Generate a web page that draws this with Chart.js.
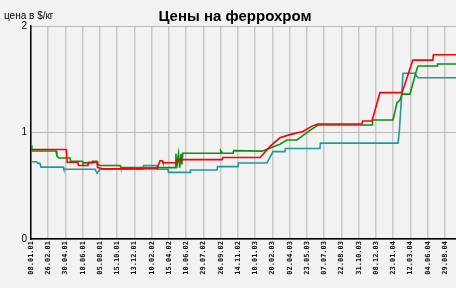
<!DOCTYPE html>
<html>
<head>
<meta charset="utf-8">
<script src="https://cdn.jsdelivr.net/npm/chart.js@4"></script>
<style>
  html, body { margin: 0; padding: 0; background: #f2f2f2; }
  #wrap { width: 456px; height: 288px; position: relative; }
</style>
</head>
<body>
<div id="wrap"><canvas id="ferroChart"></canvas></div>
<script>
// tick labels (dates), one per vertical grid line
const dateLabels = [
  '08.01.01', '26.02.01', '30.04.01', '18.06.01', '05.08.01', '15.10.01',
  '13.12.01', '10.02.02', '15.04.02', '10.06.02', '29.07.02', '26.09.02',
  '14.11.02', '10.01.03', '20.02.03', '02.04.03', '23.05.03', '07.07.03',
  '22.08.03', '31.10.03', '08.12.03', '23.01.04', '12.03.04', '04.06.04',
  '29.08.04'
];

// x = position in label steps, y = price $/kg
const priceRed = [
  [0, 0.84], [2.05, 0.84], [2.1, 0.72], [2.72, 0.72], [2.75, 0.69], [3.3, 0.69],
  [3.33, 0.72], [3.83, 0.72], [3.86, 0.67], [4.17, 0.66], [7.3, 0.66], [7.48, 0.735],
  [7.6, 0.735], [7.65, 0.716], [8.46, 0.716], [8.5, 0.745], [11.07, 0.745], [11.13, 0.765],
  [13.28, 0.765], [13.86, 0.87], [14.43, 0.95], [15.01, 0.98], [15.77, 1.01], [16.29, 1.06],
  [16.64, 1.08], [19.19, 1.08], [19.22, 1.108], [19.77, 1.108], [20.23, 1.374], [21.51, 1.374],
  [22.14, 1.68], [23.3, 1.68], [23.33, 1.73], [24.64, 1.73]
];

const priceGreen = [
  [0, 0.88], [0.05, 0.826], [1.45, 0.826], [1.5, 0.78], [1.62, 0.76], [2.26, 0.76],
  [2.3, 0.73], [2.96, 0.73], [3.0, 0.715], [3.54, 0.715], [3.57, 0.73], [3.83, 0.73],
  [3.86, 0.7], [4.0, 0.69], [5.16, 0.69], [5.2, 0.67], [8.35, 0.67], [8.4, 0.8],
  [8.45, 0.67], [8.55, 0.8], [8.62, 0.67], [8.7, 0.8], [8.75, 0.7], [8.8, 0.805],
  [10.96, 0.805], [11.0, 0.83], [11.1, 0.805], [11.71, 0.805], [11.75, 0.83], [13.39, 0.825],
  [14.43, 0.89], [14.84, 0.93], [15.42, 0.93], [16.17, 1.02], [16.64, 1.07], [19.77, 1.07],
  [19.8, 1.117], [20.99, 1.117], [21.22, 1.28], [21.39, 1.305], [21.51, 1.36], [21.97, 1.36],
  [22.09, 1.43], [22.14, 1.43], [22.38, 1.6], [22.45, 1.625], [23.54, 1.625], [23.57, 1.643],
  [24.64, 1.643]
];

const priceTeal = [
  [0, 0.726], [0.33, 0.726], [0.4, 0.71], [0.52, 0.71], [0.58, 0.675], [1.86, 0.675],
  [1.9, 0.655], [3.71, 0.655], [3.83, 0.617], [4.0, 0.655], [6.49, 0.655], [6.53, 0.69],
  [7.3, 0.69], [7.33, 0.655], [7.94, 0.655], [7.97, 0.626], [9.22, 0.626], [9.25, 0.648],
  [10.78, 0.648], [10.82, 0.68], [12.0, 0.68], [12.03, 0.714], [13.68, 0.714], [14.03, 0.82],
  [14.72, 0.82], [14.75, 0.85], [16.75, 0.85], [16.78, 0.9], [21.28, 0.9], [21.35, 1.0],
  [21.57, 1.556], [22.26, 1.556], [22.43, 1.514], [24.64, 1.514]
];

const toPoints = (arr) => arr.map(([x, y]) => ({ x, y }));

const extraText = {
  id: 'extraText',
  beforeDraw(chart) {
    const ctx = chart.ctx;
    ctx.save();
    ctx.fillStyle = '#f2f2f2';
    ctx.fillRect(0, 0, chart.width, chart.height);
    ctx.restore();
  },
  afterDraw(chart) {
    const ctx = chart.ctx;
    ctx.save();
    ctx.fillStyle = '#000';
    ctx.textBaseline = 'alphabetic';
    ctx.font = '10px "Liberation Sans", Arial, sans-serif';
    ctx.textAlign = 'left';
    ctx.fillText('цена в $/кг', 4, 19);
    ctx.font = 'bold 15px "Liberation Sans", Arial, sans-serif';
    ctx.textAlign = 'center';
    ctx.fillText('Цены на феррохром', 235, 21);
    ctx.restore();
  }
};

const canvas = document.getElementById('ferroChart');
new Chart(canvas, {
  type: 'line',
  data: {
    datasets: [
      { label: 'Ряд 1', data: toPoints(priceRed), borderColor: '#ff0000' },
      { label: 'Ряд 2', data: toPoints(priceGreen), borderColor: '#0f8f0f' },
      { label: 'Ряд 3', data: toPoints(priceTeal), borderColor: '#1f9a9a' }
    ]
  },
  options: {
    responsive: true,
    maintainAspectRatio: false,
    animation: false,
    layout: { padding: { top: 26, right: 0, left: 0, bottom: 0 } },
    elements: {
      line: { borderWidth: 1.6, tension: 0, fill: false },
      point: { radius: 0 }
    },
    plugins: {
      legend: { display: false },
      tooltip: { enabled: false },
      title: { display: false }
    },
    scales: {
      x: {
        type: 'linear',
        min: 0,
        max: 24.64,
        afterFit: (scale) => { scale.height = 49; },
        ticks: {
          stepSize: 1,
          includeBounds: false,
          autoSkip: false,
          maxRotation: 90,
          minRotation: 90,
          padding: 2,
          color: '#111',
          font: { family: '"DejaVu Sans Mono", monospace', size: 7, weight: 'bold' },
          callback: (value) => dateLabels[value] || ''
        },
        grid: { color: '#c8c8c8', lineWidth: 1.5, drawTicks: false },
        border: { color: '#000', width: 1.5 }
      },
      y: {
        min: 0,
        max: 2,
        afterFit: (scale) => { scale.width = 31; },
        ticks: {
          stepSize: 1,
          padding: 4,
          color: '#000',
          font: { family: '"Liberation Sans", Arial, sans-serif', size: 10 }
        },
        grid: { color: '#b8b8b8', lineWidth: 1, drawTicks: false },
        border: { color: '#000', width: 1.5 }
      }
    }
  },
  plugins: [extraText]
});
</script>
</body>
</html>
